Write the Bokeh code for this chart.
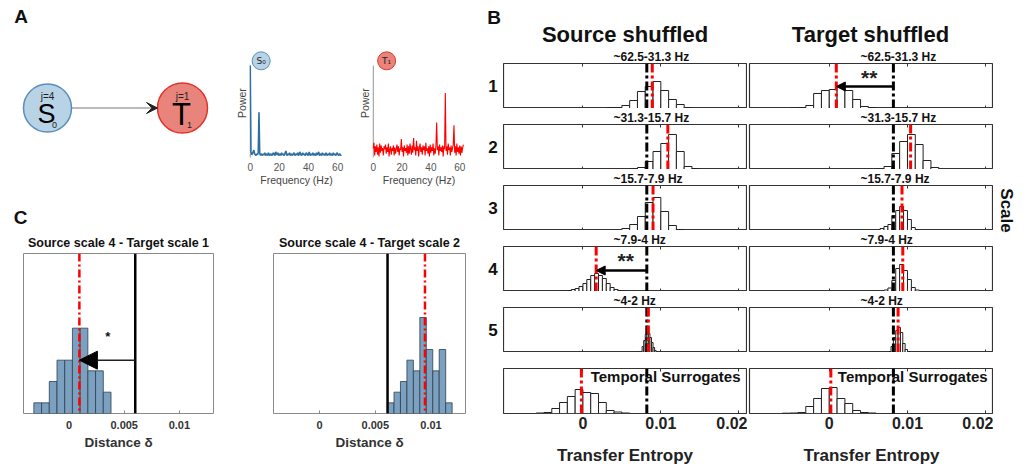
import math
import numpy as np
from bokeh.plotting import figure
from bokeh.layouts import row, column
from bokeh.models import Range1d, Span, Arrow, NormalHead, VeeHead, FixedTicker, LinearAxis
from bokeh.core.properties import value
from bokeh.embed import file_html
from bokeh.resources import INLINE

FONT = "Liberation Sans"

# ---------------- Panel A data ----------------
freq_step_hz = 0.5
s0_power = [
    1.00, 0.06, 0.03, 0.04, 0.06, 0.08, 0.04, 0.03, 0.02, 0.04,
    0.03, 0.05, 0.49, 0.05, 0.02, 0.04, 0.03, 0.02, 0.04, 0.03,
    0.05, 0.02, 0.03, 0.04, 0.02, 0.05, 0.03, 0.02, 0.04, 0.03,
    0.02, 0.04, 0.05, 0.03, 0.02, 0.06, 0.04, 0.03, 0.05, 0.02,
    0.03, 0.04, 0.02, 0.05, 0.03, 0.04, 0.02, 0.03, 0.05, 0.07,
    0.03, 0.02, 0.04, 0.03, 0.05, 0.02, 0.04, 0.03, 0.02, 0.04,
    0.05, 0.03, 0.02, 0.04, 0.03, 0.05, 0.02, 0.03, 0.06, 0.04,
    0.02, 0.03, 0.05, 0.03, 0.04, 0.02, 0.03, 0.05, 0.04, 0.02,
    0.03, 0.06, 0.03, 0.02, 0.04, 0.03, 0.05, 0.02, 0.04, 0.03,
    0.02, 0.05, 0.03, 0.04, 0.06, 0.02, 0.03, 0.04, 0.02, 0.05,
    0.03, 0.04, 0.02, 0.03, 0.05, 0.03, 0.02, 0.04, 0.03, 0.05,
    0.02, 0.04, 0.03, 0.02, 0.05, 0.03, 0.04, 0.02, 0.03, 0.05,
    0.04, 0.02, 0.03, 0.04, 0.02, 0.03,
]
t1_power = [
    0.10, 0.16, 0.02, 0.12, 0.06, 0.14, 0.03, 0.11, 0.01, 0.15,
    0.05, 0.13, 0.07, 0.10, 0.02, 0.12, 0.09, 0.14, 0.04, 0.11,
    0.06, 0.15, 0.01, 0.09, 0.12, 0.03, 0.10, 0.07, 0.13, 0.02,
    0.11, 0.04, 0.09, 0.14, 0.06, 0.12, 0.02, 0.10, 0.08, 0.20,
    0.06, 0.11, 0.01, 0.13, 0.07, 0.10, 0.05, 0.14, 0.02, 0.12,
    0.04, 0.15, 0.09, 0.03, 0.13, 0.05, 0.21, 0.08, 0.11, 0.02,
    0.18, 0.07, 0.12, 0.01, 0.10, 0.15, 0.06, 0.11, 0.03, 0.13,
    0.08, 0.12, 0.02, 0.16, 0.07, 0.10, 0.04, 0.12, 0.01, 0.14,
    0.05, 0.11, 0.07, 0.15, 0.02, 0.10, 0.04, 0.13, 0.38, 0.08,
    0.12, 0.02, 0.14, 0.07, 0.11, 0.06, 0.13, 0.01, 0.12, 0.09,
    0.70, 0.07, 0.12, 0.03, 0.15, 0.08, 0.11, 0.02, 0.13, 0.06,
    0.10, 0.14, 0.35, 0.05, 0.12, 0.02, 0.15, 0.06, 0.11, 0.04,
    0.13, 0.02, 0.12, 0.05, 0.10, 0.14,
]
spec_ticks = [0, 20, 40, 60]
power_axis_top = 1.0

node_names = ["S", "T"]
node_subs = ["0", "1"]
node_scales = ["j=4", "j=1"]
node_x = [47, 182]
node_y = [107.5, 107.5]
node_r = [24, 25]
node_font = ["27px", "31px"]
node_fill = ["#b8d2e6", "#e8847b"]
node_edge = ["#5a8fba", "#e2332a"]

# ---------------- Panel B data ----------------
te_ticks = [0, 0.01, 0.02]
te_tick_labels = ["0", "0.01", "0.02"]
te_original = 0.0082
scale_numbers = ["1", "2", "3", "4", "5"]
row_titles = ["~62.5-31.3 Hz", "~31.3-15.7 Hz", "~15.7-7.9 Hz", "~7.9-4 Hz", "~4-2 Hz", ""]
column_titles = ["Source shuffled", "Target shuffled"]

src_bin_start = [0.003, 0.006, 0.005, -0.003, 0.0072, -0.006]
src_bin_width = [0.001, 0.001, 0.001, 0.0005, 0.0002, 0.001]
src_counts = [
    [1, 1, 3, 8, 17, 22, 27, 18, 9, 4, 1],
    [0.5, 2, 8, 18, 26, 35, 18, 3, 1],
    [2, 6, 14, 28, 33, 19, 5, 1],
    [0.5, 0.5, 1, 2, 3, 5, 8, 12, 16, 18, 16, 13, 8, 4, 2, 1, 0.5],
    [0.5, 1, 6, 12, 18, 21, 19, 15, 10, 5, 2, 1],
    [0.5, 1, 5, 11, 17, 24, 21, 20, 11, 3, 1.5, 0.5],
]
src_mean = [0.0089, 0.0109, 0.0090, 0.0017, 0.0084, -0.0002]

tgt_bin_start = [-0.005, 0.006, 0.0065, 0.007, 0.0076, -0.006]
tgt_bin_width = [0.001, 0.001, 0.0005, 0.0005, 0.0003, 0.001]
tgt_counts = [
    [0.5, 1, 3, 15, 18, 19, 22, 18, 9, 2, 1],
    [0.5, 3, 16, 28, 35, 25, 9, 2],
    [2, 4, 6, 15, 20, 24, 20, 11, 3, 1],
    [1.5, 3.5, 11, 23, 27, 21, 12, 4, 1.5],
    [1, 6, 15, 22, 25, 20, 9, 3, 1],
    [0.3, 0.5, 1, 7, 15, 25, 26, 15, 10, 3, 1, 0.5],
]
tgt_mean = [0.0009, 0.0104, 0.0093, 0.0094, 0.0088, 0.0002]

# significance markers: (column, row, arrow height, star x, star height)
sig_marks = [(0, 3, 21, 0.0055, 31), (1, 0, 22, 0.0051, 31)]

# ---------------- Panel C data ----------------
c_titles = ["Source scale 4 - Target scale 1", "Source scale 4 - Target scale 2"]
c_bin_start = [-0.0032, 0.0061]
c_bin_width = [0.0007, 0.00058]
c_counts = [[1, 1, 3, 5, 5, 8, 8, 4, 4, 2], [1, 2, 3, 5, 4, 9, 6, 4, 6, 1]]
c_threshold = [0.0060, 0.0061]
c_mean = [0.00093, 0.00946]
c_ticks = [0, 0.005, 0.01]
c_tick_labels = ["0", "0.005", "0.01"]
c_arrow = [(5, 0.0035, 7.2), None]

COMMON = dict(output_backend="svg", toolbar_location=None)


def txt(p, x, y, t, size, bold=True, color="#111111", align="center",
        baseline="middle", font=FONT, angle=0.0):
    p.text(x=[x], y=[y], text=[t], text_font=value(font), text_font_size=value(size),
           text_font_style="bold" if bold else "normal",
           text_color=color, text_align=align, text_baseline=baseline, angle=angle)


def canvas(x0, y0, w, h):
    p = figure(width=w, height=h, x_range=Range1d(x0, x0 + w), y_range=Range1d(y0 + h, y0),
               x_axis_location=None, y_axis_location=None,
               min_border_left=0, min_border_right=0, min_border_top=0, min_border_bottom=0,
               outline_line_color=None, **COMMON)
    p.grid.visible = False
    return p


# ---------------- Panel A ----------------
diag = canvas(0, 0, 232, 228)
txt(diag, 20.5, 15.5, "A", "19px")
txt(diag, 20, 216.5, "C", "19px")
diag.circle(x=node_x, y=node_y, radius=node_r, fill_color=node_fill,
            line_color=node_edge, line_width=1.5)
diag.add_layout(Arrow(x_start=node_x[0] + node_r[0], y_start=node_y[0],
                      x_end=node_x[1] - node_r[1], y_end=node_y[1],
                      line_color="#777777", line_width=1.2,
                      end=VeeHead(size=11, fill_color="#222222", line_color="#222222")))
for i in range(2):
    txt(diag, node_x[i], node_y[i] - 12, node_scales[i], "10px", bold=False, color="#222222")
    txt(diag, node_x[i] - 1, node_y[i] + 6, node_names[i], node_font[i], bold=False, color="#000000")
    txt(diag, node_x[i] + 7, node_y[i] + 17, node_subs[i], "9px", bold=False, color="#222222")


def spectrum(power, color, lw, badge, bfill, bedge, bx, lb, rb):
    f = np.arange(len(power)) * freq_step_hz
    p = figure(width=123, height=228, x_range=Range1d(-0.5, 64), y_range=Range1d(-0.012, 1.195),
               min_border_left=lb, min_border_right=rb, min_border_top=47, min_border_bottom=70,
               outline_line_color=None, **COMMON)
    p.grid.visible = False
    p.segment(x0=[f[0]], y0=[0], x1=[f[0]], y1=[power_axis_top], line_color="#aaaaaa", line_width=1.5)
    p.line(f, power, line_color=color, line_width=lw)
    p.scatter(x=[bx], y=[1.05], size=18, marker="circle", fill_color=bfill, line_color=bedge, line_width=1)
    txt(p, bx, 1.05, badge, "9px", bold=False, color="#222222", font="DejaVu Sans")
    ax = p.xaxis[0]
    ax.ticker = FixedTicker(ticks=spec_ticks)
    ax.axis_line_color = None
    ax.major_tick_line_color = None
    ax.major_tick_in = 0
    ax.major_tick_out = 0
    ax.minor_tick_line_color = None
    ax.major_label_text_font = FONT
    ax.major_label_text_font_size = "10px"
    ax.major_label_text_color = "#555555"
    ax.major_label_standoff = 4
    ax.axis_label = "Frequency (Hz)"
    ax.axis_label_text_font = FONT
    ax.axis_label_text_font_size = "10.5px"
    ax.axis_label_text_font_style = "normal"
    ax.axis_label_text_color = "#444444"
    ax.axis_label_standoff = 0
    ay = p.yaxis[0]
    ay.ticker = FixedTicker(ticks=[])
    ay.axis_line_color = None
    ay.major_tick_line_color = None
    ay.minor_tick_line_color = None
    ay.major_label_standoff = 0
    ay.axis_label = "Power"
    ay.axis_label_text_font = FONT
    ay.axis_label_text_font_size = "10.5px"
    ay.axis_label_text_font_style = "normal"
    ay.axis_label_text_color = "#444444"
    ay.axis_label_standoff = 2
    return p


s_fig = spectrum(s0_power, "#2f6f9f", 1.6, "S\u2080", "#b8d2e6", "#5a8fba", 7.5, 14, 12)
t_fig = spectrum(t1_power, "#ff0000", 1.1, "T\u2081", "#e8847b", "#e2332a", 9.3, 13, 13)


# ---------------- Panel C ----------------
def c_fig(i, width, lb, rb):
    p = figure(width=width, height=241, x_range=Range1d(-0.00414, 0.0131), y_range=Range1d(0, 15),
               min_border_left=lb, min_border_right=rb, min_border_top=25, min_border_bottom=56,
               y_axis_location=None, title=c_titles[i], outline_line_color="#8a8a8a", **COMMON)
    p.grid.visible = False
    p.title.align = "center"
    p.title.text_font = FONT
    p.title.text_font_size = "12.5px"
    p.title.text_font_style = "bold"
    p.title.text_color = "#111111"
    p.title.standoff = 8
    cnt = c_counts[i]
    lefts = [c_bin_start[i] + k * c_bin_width[i] for k in range(len(cnt))]
    rights = [l + c_bin_width[i] for l in lefts]
    p.quad(left=lefts, right=rights, bottom=0, top=cnt, fill_color="#7ba0c0",
           line_color="#2f3f4f", line_width=0.8)
    p.add_layout(Span(location=c_threshold[i], dimension="height", line_color="#000000", line_width=2.5))
    p.add_layout(Span(location=c_mean[i], dimension="height", line_color="#ff0000", line_width=2.5,
                      line_dash="8 3 2 3"))
    if c_arrow[i] is not None:
        ay, sx, sy = c_arrow[i]
        p.add_layout(Arrow(x_start=c_threshold[i], y_start=ay, x_end=c_mean[i], y_end=ay,
                           line_color="#222222", line_width=1.5,
                           end=NormalHead(size=18, fill_color="#000000", line_color="#000000")))
        txt(p, sx, sy, "*", "13px", color="#111111")
    ax = p.xaxis[0]
    ax.ticker = FixedTicker(ticks=c_ticks)
    ax.major_label_overrides = dict(zip(c_ticks, c_tick_labels))
    ax.axis_line_color = None
    ax.major_tick_in = 3
    ax.major_tick_out = 0
    ax.major_tick_line_color = "#8a8a8a"
    ax.minor_tick_line_color = None
    ax.major_label_text_font = FONT
    ax.major_label_text_font_size = "11px"
    ax.major_label_text_font_style = "bold"
    ax.major_label_text_color = "#333333"
    ax.major_label_standoff = 7
    ax.axis_label = "Distance \u03b4"
    ax.axis_label_text_font = FONT
    ax.axis_label_text_font_size = "13.5px"
    ax.axis_label_text_font_style = "bold"
    ax.axis_label_text_color = "#333333"
    ax.axis_label_standoff = 3
    return p


c1 = c_fig(0, 240, 23, 27)
c2 = c_fig(1, 238, 33, 13)


# ---------------- Panel B ----------------
HEADER_H = 47
ROW_TOP = 16
FRAME_H = 45
row_heights = [61, 61, 61, 61, 61, 117]


def tick_only_axis():
    return dict(ticker=FixedTicker(ticks=[], minor_ticks=te_ticks), minor_tick_in=3, minor_tick_out=0,
                minor_tick_line_color="#333333", major_tick_in=0, major_tick_out=0,
                major_label_standoff=0, axis_line_color=None)


def b_fig(side, r):
    width, lb, rb = (244, 0, 1) if side == 0 else (246, 2, 0)
    bottom = row_heights[r] - ROW_TOP - FRAME_H
    p = figure(width=width, height=row_heights[r], x_range=Range1d(-0.0102, 0.0210),
               y_range=Range1d(0, 45), min_border_left=lb, min_border_right=rb,
               min_border_top=ROW_TOP, min_border_bottom=bottom, y_axis_location=None,
               x_axis_location=None,
               title=row_titles[r], outline_line_color="#333333", outline_line_width=1.2, **COMMON)
    p.grid.visible = False
    p.title.align = "left"
    p.title.offset = 110 if side == 0 else 111
    p.title.standoff = 0
    p.title.text_font = FONT
    p.title.text_font_size = "12px"
    p.title.text_font_style = "bold"
    p.title.text_color = "#111111"

    starts, widths, counts, means = ((src_bin_start, src_bin_width, src_counts, src_mean) if side == 0
                                     else (tgt_bin_start, tgt_bin_width, tgt_counts, tgt_mean))
    cnt = counts[r]
    lefts = [starts[r] + k * widths[r] for k in range(len(cnt))]
    rights = [l + widths[r] for l in lefts]
    p.quad(left=lefts, right=rights, bottom=0, top=cnt, fill_color="#ffffff",
           line_color="#222222", line_width=1)
    p.add_layout(Span(location=te_original, dimension="height", line_color="#000000",
                      line_width=3, line_dash="9 3 3 3"))
    p.add_layout(Span(location=means[r], dimension="height", line_color="#ff0000",
                      line_width=3, line_dash="9 3 3 3"))
    for (cs, rr, ah, sx, sy) in sig_marks:
        if cs == side and rr == r:
            p.add_layout(Arrow(x_start=te_original, y_start=ah, x_end=means[r], y_end=ah,
                               line_color="#000000", line_width=2.5,
                               end=NormalHead(size=9, fill_color="#000000", line_color="#000000")))
            txt(p, sx, sy, "**", "21px", color="#222222")
    if r == 5:
        txt(p, 0.0010 if side == 0 else 0.0011, 45.5, "Temporal Surrogates", "15px",
            color="#111111", align="left", baseline="top")

    if r < 5:
        p.add_layout(LinearAxis(**tick_only_axis()), "below")
    else:
        ax = LinearAxis(ticker=FixedTicker(ticks=te_ticks), major_tick_in=3, major_tick_out=0,
                        major_tick_line_color="#333333", minor_tick_line_color=None,
                        axis_line_color=None)
        ax.major_label_overrides = dict(zip(te_ticks, te_tick_labels))
        ax.major_label_text_font = FONT
        ax.major_label_text_font_size = "16px"
        ax.major_label_text_font_style = "bold"
        ax.major_label_text_color = "#222222"
        ax.major_label_standoff = 3
        ax.axis_label = "Transfer Entropy"
        ax.axis_label_text_font = FONT
        ax.axis_label_text_font_size = "17px"
        ax.axis_label_text_font_style = "bold"
        ax.axis_label_text_color = "#222222"
        ax.axis_label_standoff = 14
        p.add_layout(ax, "below")
    p.add_layout(LinearAxis(**tick_only_axis()), "above")
    return p


row_tops = [HEADER_H + sum(row_heights[:k]) for k in range(6)]
frame_centres = [t + ROW_TOP + FRAME_H / 2 for t in row_tops]
b_height = sum(row_heights)

header = canvas(478, 0, 548, HEADER_H)
txt(header, 493.5, 16.5, "B", "19px")
txt(header, 624.5, 34, column_titles[0], "22px")
txt(header, 870, 34, column_titles[1], "22px")

nums = canvas(478, HEADER_H, 25, b_height)
for k, n in enumerate(scale_numbers):
    txt(nums, 492.5, frame_centres[k], n, "17px")

scale_fig = canvas(993, HEADER_H, 33, b_height)
txt(scale_fig, 1006, 210, "Scale", "17px", angle=-math.pi / 2)

col_left = column(*[b_fig(0, r) for r in range(6)])
col_right = column(*[b_fig(1, r) for r in range(6)])

left_block = column(row(column(diag), s_fig, t_fig), row(c1, c2))
right_block = column(header, row(nums, col_left, col_right, scale_fig))
layout = row(left_block, right_block)

open("out.html", "w").write(file_html(layout, INLINE))
